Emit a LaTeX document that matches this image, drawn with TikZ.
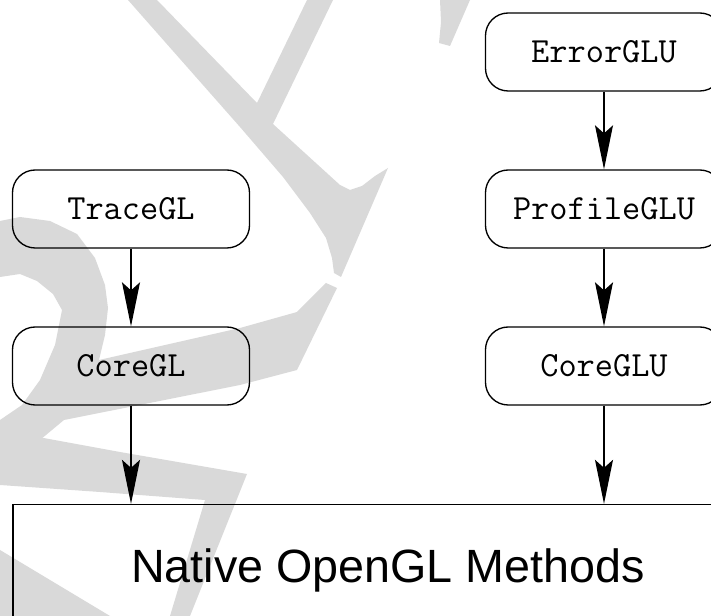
\documentclass[tikz,border=0pt]{standalone}
\usepackage{fontspec}
\setsansfont{Liberation Sans}
\usetikzlibrary{arrows.meta}

\begin{document}
\begin{tikzpicture}[x=0.75pt, y=-0.75pt]
	\tikzstyle{block}=[draw=black, line width=1pt, rounded corners=17pt, minimum width=177.75pt, minimum height=58.5pt, font=\ttfamily\fontsize{26.5}{32}\selectfont]
	\tikzstyle{native}=[draw=black, line width=1pt, minimum width=562.5pt, minimum height=93pt, text height=24.75pt, text depth=0pt, font=\sffamily\fontsize{35}{42}\selectfont]
	\tikzstyle{arrow}=[line width=1pt, -{Stealth[length=33pt, width=13.5pt, inset=6pt]}]
	\tikzstyle{watermark}=[fill=black!15, draw=none]

	\useasboundingbox (0,0) rectangle (711,616);

	% Watermark
	\fill [watermark] (128,0) -- (240,127) -- (283,177) -- (310,213) -- (326,238) -- (332,258) -- (334,273) -- (341,277) -- (388,168) -- (375,176) -- (362,186) -- (350,190) -- (340,185) -- (273,124) -- (333,0) -- (307,0) -- (257,103) -- (157,0) -- cycle;
	\fill [watermark] (440,0) -- (441,22) -- (439,43) -- (450,46) -- (470,0) -- cycle;
	\fill [watermark] (0,221) -- (20,217) -- (50,221) -- (77,234) -- (95,258) -- (105,285) -- (108,308) -- (105,335) -- (99,360) -- (240,328) -- (297,312) -- (326,283) -- (337,288) -- (297,370) -- (240,385) -- (64,420) -- (40,440) -- (0,455) -- (0,420) -- (22,405) -- (40,380) -- (55,345) -- (62,310) -- (53,294) -- (37,281) -- (20,274) -- (0,277) -- cycle;
	\fill [watermark] (0,430) -- (120,452) -- (247,474) -- (190,616) -- (170,616) -- (205,500) -- (100,492) -- (0,485) -- cycle;
	\fill [watermark] (0,550) -- (110,616) -- (0,616) -- cycle;

	% GL
	\node at (131, 209) [block] (trace_gl) {TraceGL};
	\node at (131, 366) [block] (core_gl) {CoreGL};

	% GLU
	\node at (604, 52) [block] (error_glu) {ErrorGLU};
	\node at (604, 209) [block] (profile_glu) {ProfileGLU};
	\node at (604, 366) [block] (core_glu) {CoreGLU};

	% Native
	\node at (388, 566.5) [native] (native) {Native OpenGL Methods};

	% Arrows
	\foreach \a/\b in {trace_gl/core_gl, error_glu/profile_glu, profile_glu/core_glu}
		\draw [arrow] (\a) to (\b);
	\foreach \a in {core_gl, core_glu}
		\draw [arrow] (\a) to (\a |- native.north);
\end{tikzpicture}
\end{document}
